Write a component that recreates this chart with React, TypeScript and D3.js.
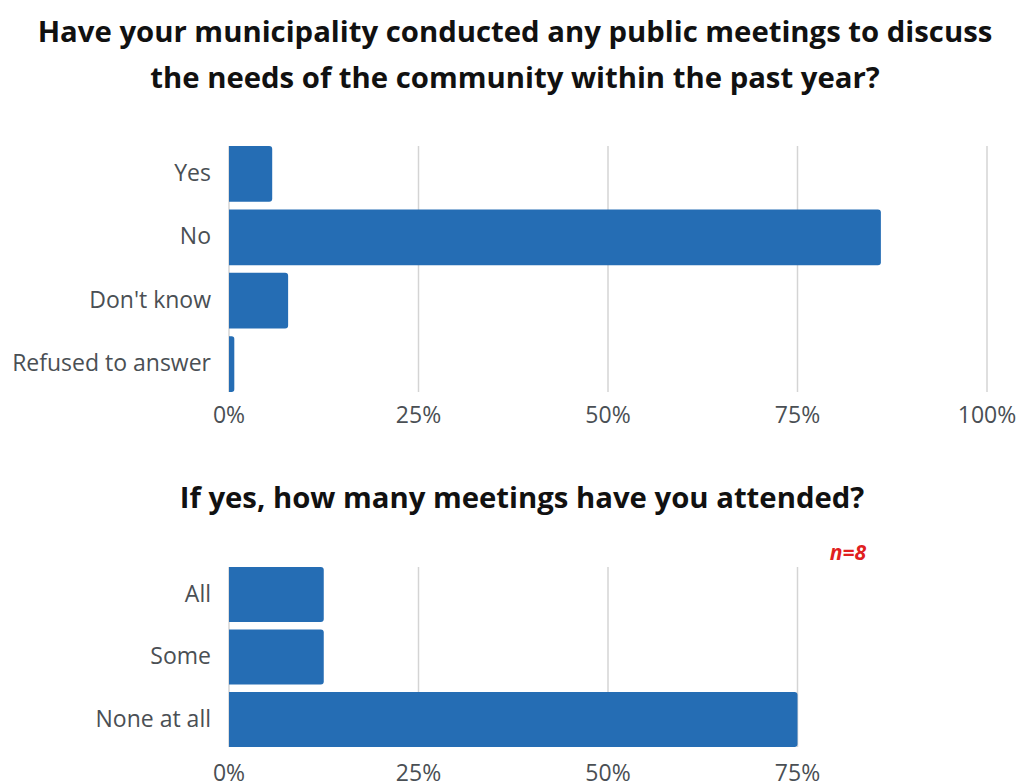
import React from "react";
import * as d3 from "d3";

const topCategories = ["Yes", "No", "Don't know", "Refused to answer"];
const topValues = [0.057, 0.86, 0.078, 0.007];
const topTicks = [0, 0.25, 0.5, 0.75, 1];

const bottomCategories = ["All", "Some", "None at all"];
const bottomValues = [0.125, 0.125, 0.75];
const bottomTicks = [0, 0.25, 0.5, 0.75];

const title1 = ["Have your municipality conducted any public meetings to discuss", "the needs of the community within the past year?"];
const title2 = "If yes, how many meetings have you attended?";
const note = "n=8";

const FONT = "'Open Sans', 'Noto Sans', sans-serif";
const BAR = "#256db4";
const GRID = "#d4d4d4";
const TEXT = "#4a4f54";

function barPath(x0: number, x1: number, y0: number, h: number, r: number) {
  const rr = Math.min(r, (x1 - x0) / 2, h / 2);
  const p = d3.path();
  p.moveTo(x0, y0);
  p.lineTo(x1 - rr, y0);
  p.arcTo(x1, y0, x1, y0 + rr, rr);
  p.lineTo(x1, y0 + h - rr);
  p.arcTo(x1, y0 + h, x1 - rr, y0 + h, rr);
  p.lineTo(x0, y0 + h);
  p.closePath();
  return p.toString();
}

function Panel({ cats, vals, ticks, y0, y1, tickY }: { cats: string[]; vals: number[]; ticks: number[]; y0: number; y1: number; tickY: number }) {
  const x = d3.scaleLinear().domain([0, 1]).range([229, 987]);
  const y = d3.scaleBand().domain(cats).range([y0, y1]).paddingInner(0.12).paddingOuter(0.0);
  return (
    <g>
      {ticks.map((t) => (
        <line key={t} x1={x(t)} x2={x(t)} y1={y0} y2={y1} stroke={GRID} strokeWidth={1.5} />
      ))}
      {cats.map((c, i) => (
        <path key={c} d={barPath(x(0), x(vals[i]), y(c)!, y.bandwidth(), 3)} fill={BAR} />
      ))}
      {cats.map((c) => (
        <text key={c} x={211} y={y(c)! + y.bandwidth() / 2 - 2} textAnchor="end" dominantBaseline="central" fontSize={23} fill={TEXT} fontFamily={FONT}>
          {c}
        </text>
      ))}
      {ticks.map((t) => (
        <text key={t} x={x(t)} y={tickY} textAnchor="middle" dominantBaseline="central" fontSize={23} fill={TEXT} fontFamily={FONT}>
          {d3.format(".0%")(t)}
        </text>
      ))}
    </g>
  );
}

export default function App() {
  return (
    <svg width={1022} height={782} style={{ position: "absolute", left: 0, top: 0, background: "#fff" }}>
      <rect width={1022} height={782} fill="#fff" />
      {title1.map((t, i) => (
        <text key={i} x={515} y={31 + i * 46} textAnchor="middle" dominantBaseline="central" fontSize={29.3} fontWeight="bold" fill="#111" fontFamily={FONT}>
          {t}
        </text>
      ))}
      <Panel cats={topCategories} vals={topValues} ticks={topTicks} y0={146} y1={392} tickY={414} />
      <text x={522} y={497} textAnchor="middle" dominantBaseline="central" fontSize={29.3} fontWeight="bold" fill="#111" fontFamily={FONT}>
        {title2}
      </text>
      <text x={848} y={552} textAnchor="middle" dominantBaseline="central" fontSize={21} fontWeight="bold" fontStyle="italic" fill="#e02020" fontFamily={FONT}>
        {note}
      </text>
      <Panel cats={bottomCategories} vals={bottomValues} ticks={bottomTicks} y0={567} y1={747} tickY={772} />
    </svg>
  );
}
